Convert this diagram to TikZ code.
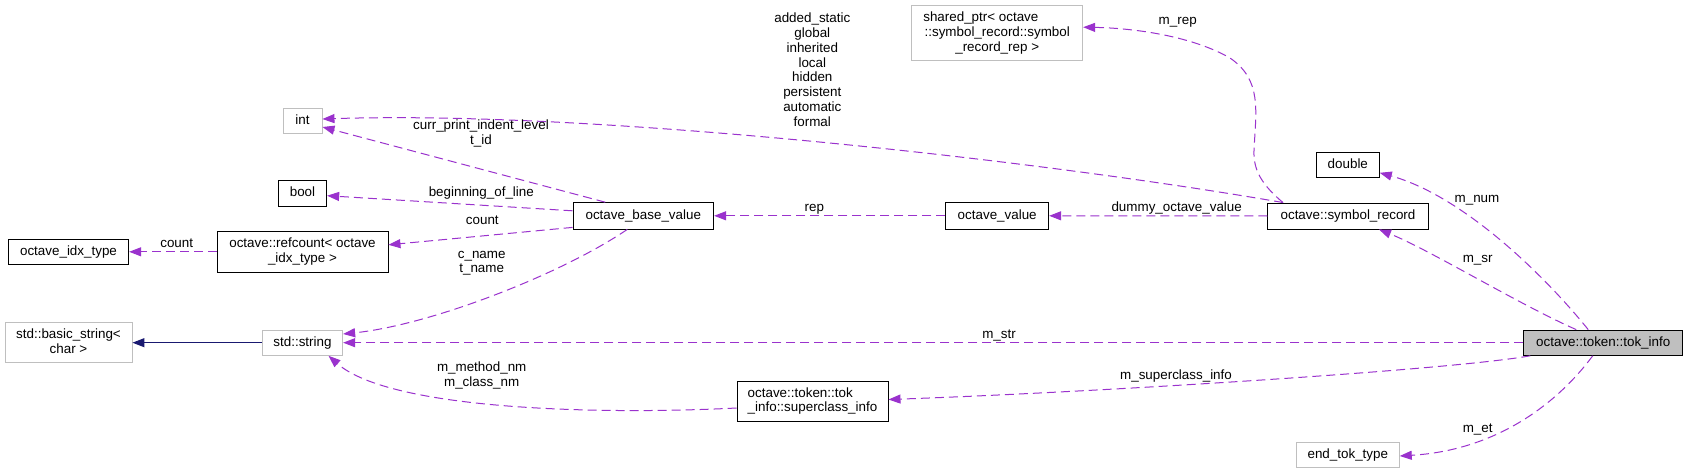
\documentclass[tikz,border=0pt]{standalone}
\usepackage{fontspec}
\setmainfont{Liberation Sans}
\usetikzlibrary{arrows.meta}
\definecolor{edgepurple}{HTML}{9A32CD}
\definecolor{inhblue}{HTML}{191970}
\definecolor{boxgray}{HTML}{BFBFBF}
\newcommand{\mystrut}{\rule[-2.8pt]{0pt}{12.4pt}}
\begin{document}
\begin{tikzpicture}[x=1pt,y=-1pt,
  font=\fontsize{13.4}{14.8}\selectfont,
  every node/.style={inner sep=0pt, execute at begin node=\mystrut},
  bbox/.style={draw=black, line width=0.9pt, align=center},
  gbox/.style={draw=boxgray, line width=0.9pt, align=center},
  mbr/.style={draw=edgepurple, line width=1pt, dash pattern=on 9pt off 5pt, -{Triangle[length=12pt,width=9pt]}},
  inh/.style={draw=inhblue, line width=1pt, -{Triangle[length=12pt,width=9pt]}}]
\fill[white] (0,0) rectangle (1688,473);
\useasboundingbox (0,0) rectangle (1688,473);

% nodes
\node[gbox, minimum width=39pt, minimum height=25.3pt] (int) at (302.5,121.3) {int};
\node[bbox, minimum width=48.4pt, minimum height=25.3pt] (bool) at (302.5,193.3) {bool};
\node[bbox, minimum width=120.4pt, minimum height=25.7pt] (idx) at (68.5,251.8) {octave\_idx\_type};
\node[bbox, minimum width=171pt, minimum height=40.3pt] (refcount) at (302.5,251.8) {octave::refcount< octave\\\mystrut\_idx\_type >};
\node[gbox, minimum width=127pt, minimum height=40pt] (bstr) at (68.5,342.7) {std::basic\_string<\\\mystrut char >};
\node[gbox, minimum width=80.4pt, minimum height=25.3pt] (str) at (302.5,342.7) {std::string};
\node[bbox, minimum width=140.7pt, minimum height=26.3pt] (obv) at (643.3,215.8) {octave\_base\_value};
\node[bbox, align=left, minimum width=151pt, minimum height=40pt] (sci) at (812.5,401) {octave::token::tok\\\mystrut\_info::superclass\_info};
\node[gbox, minimum width=171pt, minimum height=55pt] (sptr) at (997.2,33.2) {\makebox[147.8pt][l]{shared\_ptr< octave}\\\mystrut ::symbol\_record::symbol\\\mystrut\_record\_rep >};
\node[bbox, minimum width=103pt, minimum height=26.3pt] (oval) at (997.2,215.8) {octave\_value};
\node[bbox, minimum width=63pt, minimum height=25.3pt] (dbl) at (1347.8,165.3) {double};
\node[bbox, minimum width=160.6pt, minimum height=26pt] (symrec) at (1348,216) {octave::symbol\_record};
\node[bbox, fill=boxgray, minimum width=159pt, minimum height=25.3pt] (tok) at (1603.2,342.7) {octave::token::tok\_info};
\node[gbox, minimum width=103pt, minimum height=25.3pt] (endtok) at (1347.8,454.7) {end\_tok\_type};

% connectors
\draw[inh] (str.west) -- (bstr.east);
\draw[mbr] (refcount.west) -- (idx.east);
\draw[mbr] ([xshift=-38pt]obv.north) -- ([yshift=-5.7pt]int.east);
\draw[mbr] ([xshift=-65pt]symrec.north) .. controls (1050,162) and (600,110) .. ([yshift=2.3pt]int.east);
\draw[mbr] ([yshift=5pt]obv.west) -- ([yshift=-2.4pt]bool.east);
\draw[mbr] ([yshift=2pt]obv.south west) -- ([yshift=7pt]refcount.east);
\draw[mbr] ([xshift=-16pt]obv.south) .. controls (560,275) and (430,325) .. ([yshift=8.7pt]str.east);
\draw[mbr] (oval.west) -- (obv.east);
\draw[mbr] (symrec.west) -- (oval.east);
\draw[mbr] ([xshift=-65pt]symrec.north) .. controls (1262,185) and (1253,170) .. (1254,150) .. controls (1256,110) and (1262,80) .. (1230,58) .. controls (1190,35) and (1130,28) .. ([yshift=6pt]sptr.east);
\draw[mbr] ([xshift=-15pt]tok.north) .. controls (1540,270) and (1460,195) .. ([yshift=-7.5pt]dbl.east);
\draw[mbr] ([xshift=-27pt]tok.north) .. controls (1520,305) and (1430,250) .. ([xshift=31pt]symrec.south);
\draw[mbr] (tok.west) -- (str.east);
\draw[mbr] ([xshift=7pt]tok.south west) .. controls (1450,370) and (1100,392) .. ([yshift=1.5pt]sci.east);
\draw[mbr] ([xshift=-10.5pt]tok.south) .. controls (1560,400) and (1500,450) .. ([yshift=-1.3pt]endtok.east);
\draw[mbr] ([yshift=-7pt]sci.west) .. controls (600,415) and (390,410) .. ([xshift=26pt]str.south);

% labels
\node (l1) at (176.7,243.7) {count};
\node[align=center] (l2) at (481,133.7) {curr\_print\_indent\_level\\\mystrut t\_id};
\node (l3) at (481.3,192.7) {beginning\_of\_line};
\node (l4) at (482.3,220.7) {count};
\node[align=center] (l5) at (481.7,263.2) {c\_name\\\mystrut t\_name};
\node[align=center] (l6) at (481.7,375.2) {m\_method\_nm\\\mystrut m\_class\_nm};
\node[align=center] (l7) at (812.3,71) {added\_static\\\mystrut global\\\mystrut inherited\\\mystrut local\\\mystrut hidden\\\mystrut persistent\\\mystrut automatic\\\mystrut formal};
\node (l8) at (814.3,207.7) {rep};
\node (l9) at (1177.7,20.7) {m\_rep};
\node (l10) at (1176.7,207.7) {dummy\_octave\_value};
\node (l11) at (999,334.7) {m\_str};
\node (l12) at (1176,375.7) {m\_superclass\_info};
\node (l13) at (1477,198.7) {m\_num};
\node (l14) at (1477.7,258.7) {m\_sr};
\node (l15) at (1477.7,428.7) {m\_et};
\end{tikzpicture}
\end{document}
